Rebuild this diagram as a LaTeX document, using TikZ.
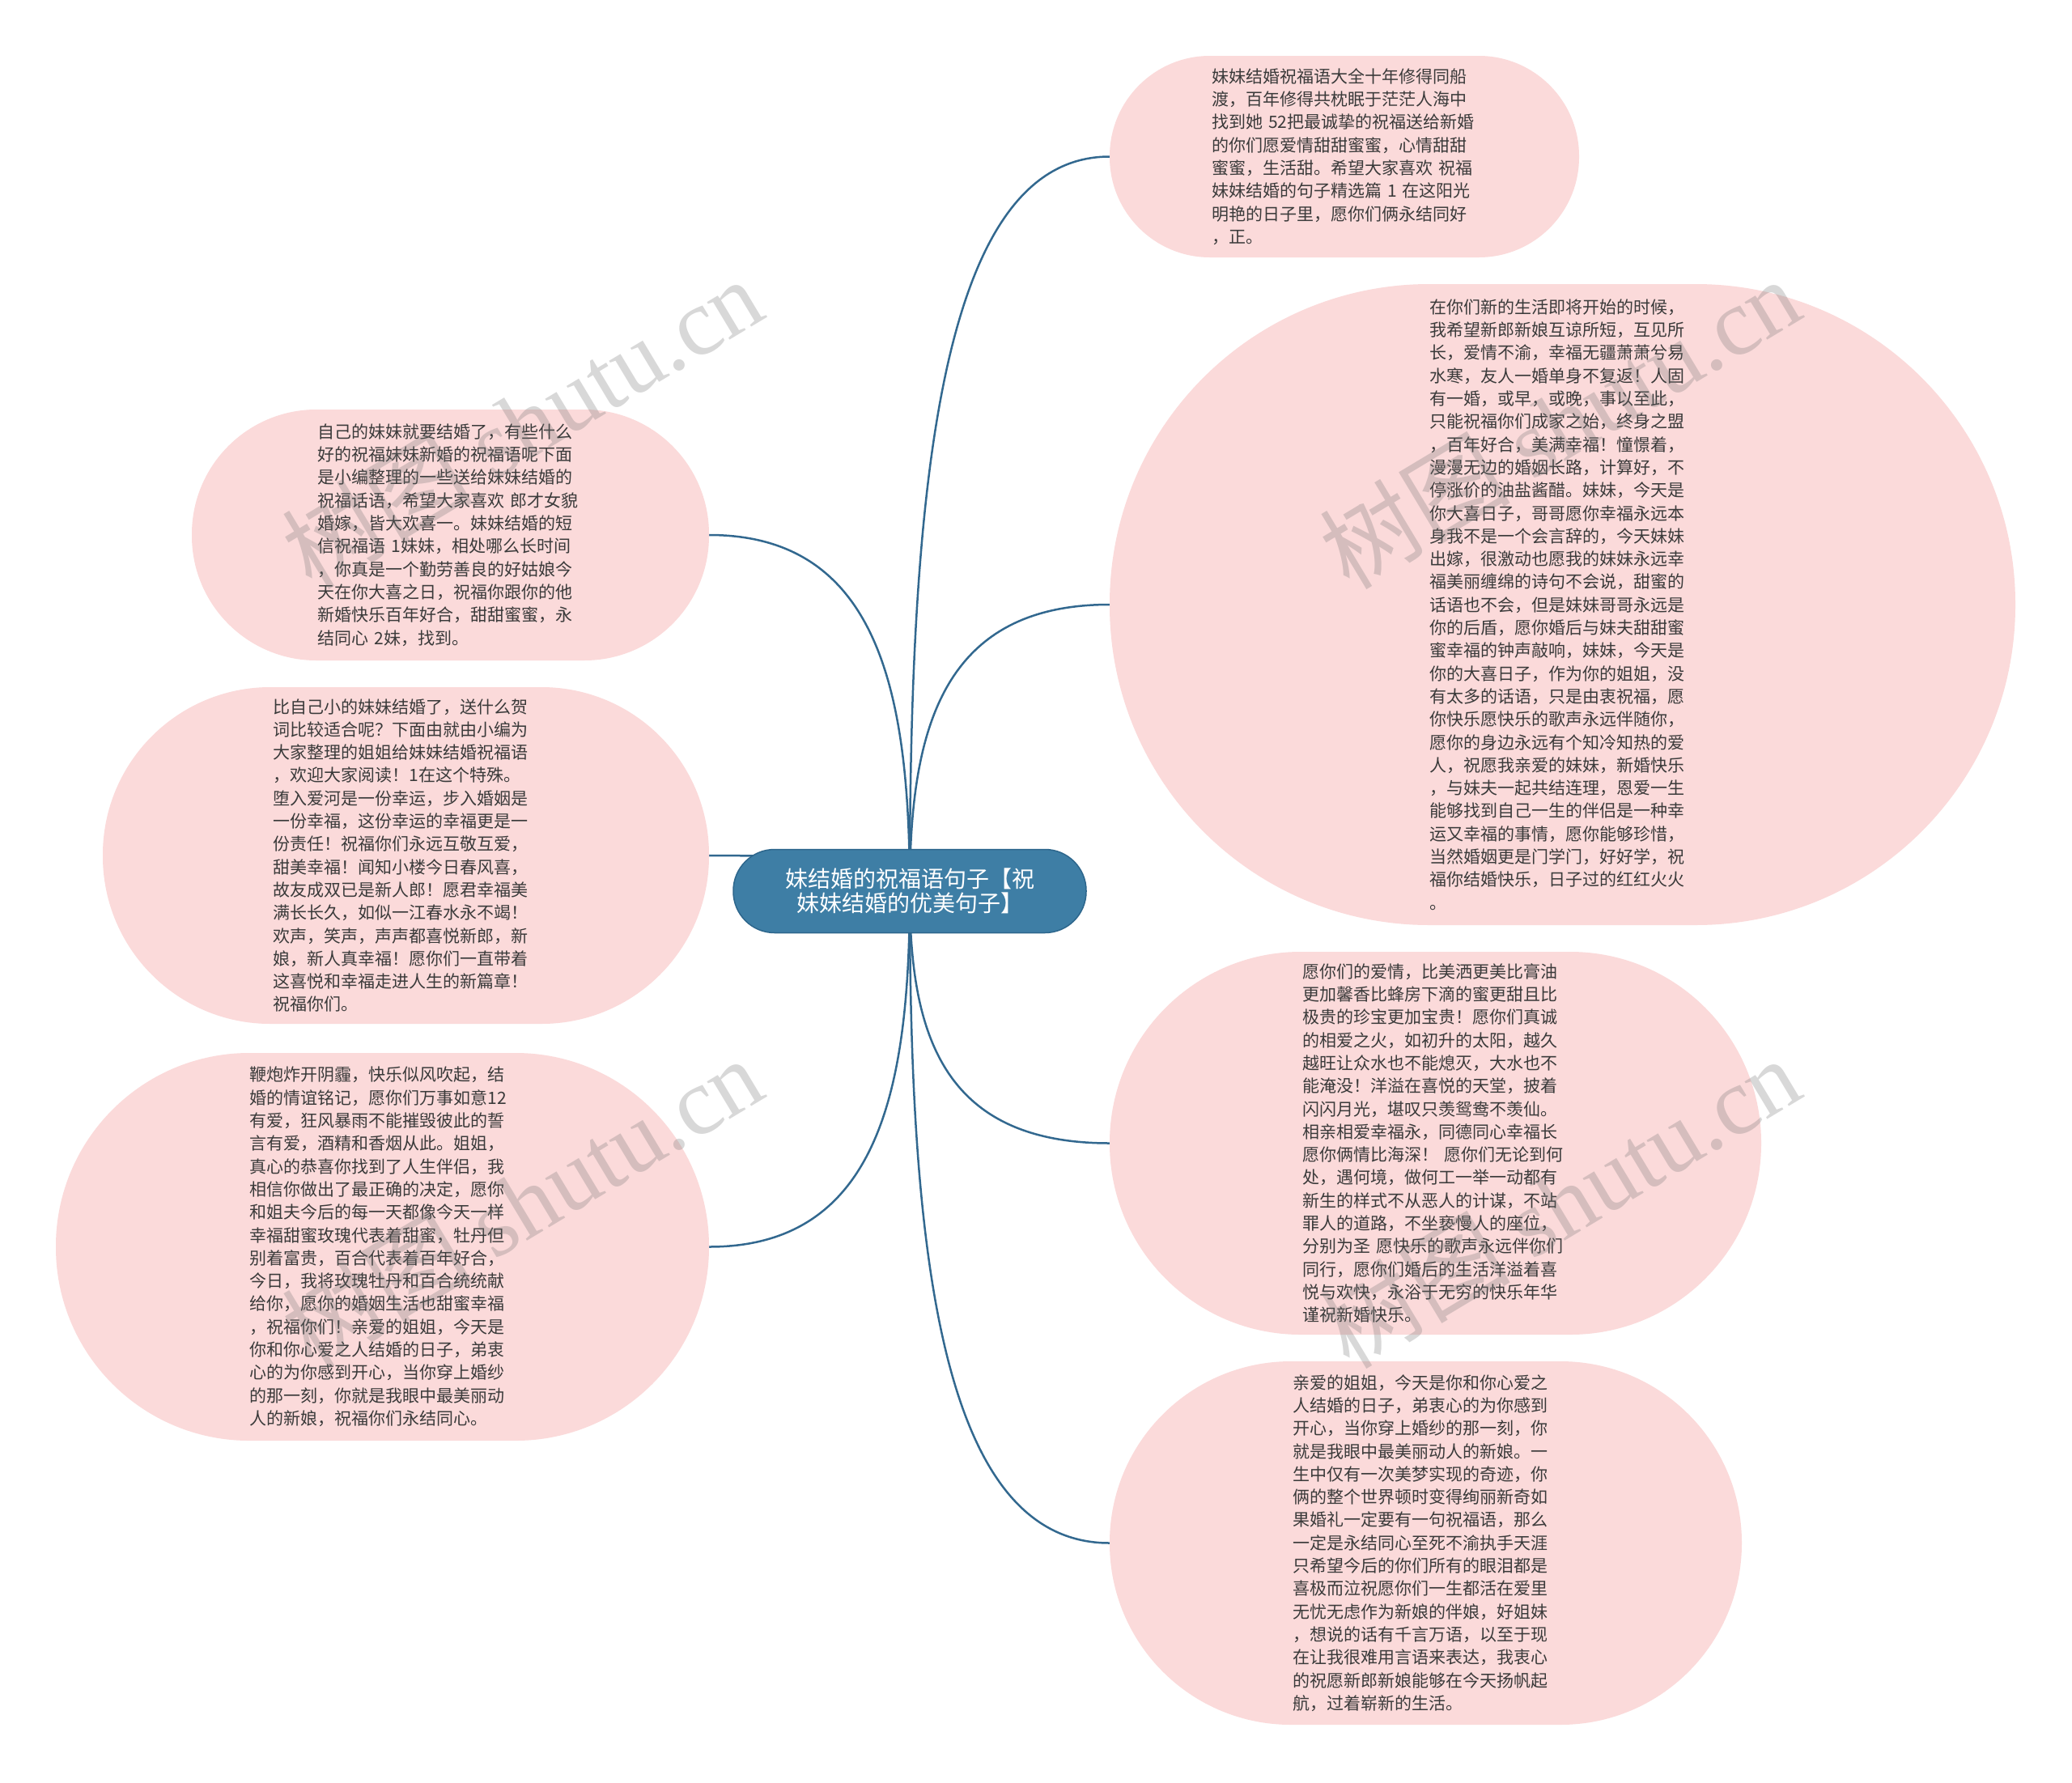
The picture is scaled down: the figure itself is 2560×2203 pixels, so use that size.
\documentclass[tikz,border=0pt]{standalone}
\usepackage{fontspec}
\setmainfont{Noto Sans CJK SC}
\newfontfamily\wmfont{Liberation Serif}
\usetikzlibrary{calc}
\pgfdeclarelayer{back}
\pgfdeclarelayer{bg}
\pgfdeclarelayer{front}
\pgfsetlayers{back,bg,main,front}
\definecolor{leafpink}{RGB}{251,218,218}
\definecolor{leaftext}{RGB}{58,58,58}
\definecolor{cfill}{RGB}{62,126,165}
\definecolor{cborder}{RGB}{45,102,140}
\definecolor{linkc}{RGB}{50,104,143}
\tikzset{
  leafbox/.style={rectangle, fill=leafpink, draw=none, text=leaftext,
    text width=328pt, align=left, inner sep=0pt,
    font=\fontsize{21}{28.3}\selectfont},
  centerbox/.style={rectangle, rounded corners=51pt, minimum width=436pt,
    minimum height=103pt, fill=cfill, draw=cborder, line width=1.5pt,
    text=white, align=center, inner sep=0pt,
    font=\fontsize{28}{30}\selectfont},
  linkline/.style={draw=linkc, line width=2.5pt},
  wmark/.style={text=black!55, text opacity=0.28, inner sep=0pt,
    font=\fontsize{118}{124}\selectfont, rotate=31}
}
\newcommand\myconn[1]{%
  \draw[linkline] (c.center) .. controls ($(c.center)!0.55!(c.center |- #1)$)
    and ($(#1)!0.85!(c.center |- #1)$) .. (#1);}
\begin{document}
\begin{tikzpicture}[x=1pt,y=-1pt]
\begin{pgfonlayer}{back}
\fill[white] (0,0) rectangle (2560,2203);
\end{pgfonlayer}
\useasboundingbox (0,0) rectangle (2560,2203);

% center
\node[centerbox] (c) at (1124,1101) {妹结婚的祝福语句子【祝\\妹妹结婚的优美句子】};

% right leaves
\node[leafbox, minimum width=580pt, minimum height=249pt, rounded corners=124pt] (tr) at (1661,193.5) {妹妹结婚祝福语大全十年修得同船\\渡，百年修得共枕眠于茫茫人海中\\找到她 52把最诚挚的祝福送给新婚\\的你们愿爱情甜甜蜜蜜，心情甜甜\\蜜蜜，生活甜。希望大家喜欢 祝福\\妹妹结婚的句子精选篇 1 在这阳光\\明艳的日子里，愿你们俩永结同好\\，正。};

\node[leafbox, minimum width=1119pt, minimum height=792pt, rounded corners=395pt] (rb) at (1930.5,747) {在你们新的生活即将开始的时候，\\我希望新郎新娘互谅所短，互见所\\长，爱情不渝，幸福无疆萧萧兮易\\水寒，友人一婚单身不复返！人固\\有一婚，或早，或晚，事以至此，\\只能祝福你们成家之始，终身之盟\\，百年好合，美满幸福！憧憬着，\\漫漫无边的婚姻长路，计算好，不\\停涨价的油盐酱醋。妹妹，今天是\\你大喜日子，哥哥愿你幸福永远本\\身我不是一个会言辞的，今天妹妹\\出嫁，很激动也愿我的妹妹永远幸\\福美丽缠绵的诗句不会说，甜蜜的\\话语也不会，但是妹妹哥哥永远是\\你的后盾，愿你婚后与妹夫甜甜蜜\\蜜幸福的钟声敲响，妹妹，今天是\\你的大喜日子，作为你的姐姐，没\\有太多的话语，只是由衷祝福，愿\\你快乐愿快乐的歌声永远伴随你，\\愿你的身边永远有个知冷知热的爱\\人，祝愿我亲爱的妹妹，新婚快乐\\，与妹夫一起共结连理，恩爱一生\\能够找到自己一生的伴侣是一种幸\\运又幸福的事情，愿你能够珍惜，\\当然婚姻更是门学门，好好学，祝\\福你结婚快乐，日子过的红红火火\\。};

\node[leafbox, minimum width=805pt, minimum height=473pt, rounded corners=236pt] (r3) at (1773.5,1412.5) {愿你们的爱情，比美洒更美比膏油\\更加馨香比蜂房下滴的蜜更甜且比\\极贵的珍宝更加宝贵！愿你们真诚\\的相爱之火，如初升的太阳，越久\\越旺让众水也不能熄灭，大水也不\\能淹没！洋溢在喜悦的天堂，披着\\闪闪月光，堪叹只羡鸳鸯不羡仙。\\相亲相爱幸福永，同德同心幸福长\\愿你俩情比海深！ 愿你们无论到何\\处，遇何境，做何工一举一动都有\\新生的样式不从恶人的计谋，不站\\罪人的道路，不坐亵慢人的座位，\\分别为圣 愿快乐的歌声永远伴你们\\同行，愿你们婚后的生活洋溢着喜\\悦与欢快，永浴于无穷的快乐年华\\谨祝新婚快乐。};

\node[leafbox, minimum width=781pt, minimum height=449pt, rounded corners=224pt] (r4) at (1761.5,1906.5) {亲爱的姐姐，今天是你和你心爱之\\人结婚的日子，弟衷心的为你感到\\开心，当你穿上婚纱的那一刻，你\\就是我眼中最美丽动人的新娘。一\\生中仅有一次美梦实现的奇迹，你\\俩的整个世界顿时变得绚丽新奇如\\果婚礼一定要有一句祝福语，那么\\一定是永结同心至死不渝执手天涯\\只希望今后的你们所有的眼泪都是\\喜极而泣祝愿你们一生都活在爱里\\无忧无虑作为新娘的伴娘，好姐妹\\，想说的话有千言万语，以至于现\\在让我很难用言语来表达，我衷心\\的祝愿新郎新娘能够在今天扬帆起\\航，过着崭新的生活。};

% left leaves
\node[leafbox, minimum width=639pt, minimum height=310pt, rounded corners=154pt] (l1) at (556.5,661) {自己的妹妹就要结婚了，有些什么\\好的祝福妹妹新婚的祝福语呢下面\\是小编整理的一些送给妹妹结婚的\\祝福话语，希望大家喜欢 郎才女貌\\婚嫁，皆大欢喜一。妹妹结婚的短\\信祝福语 1妹妹，相处哪么长时间\\，你真是一个勤劳善良的好姑娘今\\天在你大喜之日，祝福你跟你的他\\新婚快乐百年好合，甜甜蜜蜜，永\\结同心 2妹，找到。};

\node[leafbox, minimum width=749pt, minimum height=416pt, rounded corners=207pt] (l2) at (501.5,1057) {比自己小的妹妹结婚了，送什么贺\\词比较适合呢？下面由就由小编为\\大家整理的姐姐给妹妹结婚祝福语\\，欢迎大家阅读！1在这个特殊。\\堕入爱河是一份幸运，步入婚姻是\\一份幸福，这份幸运的幸福更是一\\份责任！祝福你们永远互敬互爱，\\甜美幸福！闻知小楼今日春风喜，\\故友成双已是新人郎！愿君幸福美\\满长长久，如似一江春水永不竭！\\欢声，笑声，声声都喜悦新郎，新\\娘，新人真幸福！愿你们一直带着\\这喜悦和幸福走进人生的新篇章！\\祝福你们。};

\node[leafbox, minimum width=807pt, minimum height=479pt, rounded corners=239pt] (l3) at (472.5,1540.5) {鞭炮炸开阴霾，快乐似风吹起，结\\婚的情谊铭记，愿你们万事如意12\\有爱，狂风暴雨不能摧毁彼此的誓\\言有爱，酒精和香烟从此。姐姐，\\真心的恭喜你找到了人生伴侣，我\\相信你做出了最正确的决定，愿你\\和姐夫今后的每一天都像今天一样\\幸福甜蜜玫瑰代表着甜蜜，牡丹但\\别着富贵，百合代表着百年好合，\\今日，我将玫瑰牡丹和百合统统献\\给你，愿你的婚姻生活也甜蜜幸福\\，祝福你们！亲爱的姐姐，今天是\\你和你心爱之人结婚的日子，弟衷\\心的为你感到开心，当你穿上婚纱\\的那一刻，你就是我眼中最美丽动\\人的新娘，祝福你们永结同心。};

% connectors
\begin{pgfonlayer}{bg}
\myconn{tr.west}
\myconn{rb.west}
\myconn{r3.west}
\myconn{r4.west}
\myconn{l1.east}
\myconn{l2.east}
\myconn{l3.east}
\end{pgfonlayer}

% watermarks
\begin{pgfonlayer}{front}
\node[wmark] (w1) at (645,522) {树图 {\wmfont shutu.cn}};
\node[wmark] (w2) at (645,1485) {树图 {\wmfont shutu.cn}};
\node[wmark] (w3) at (1927,522) {树图 {\wmfont shutu.cn}};
\node[wmark] (w4) at (1927,1485) {树图 {\wmfont shutu.cn}};
\end{pgfonlayer}
\end{tikzpicture}
\end{document}
